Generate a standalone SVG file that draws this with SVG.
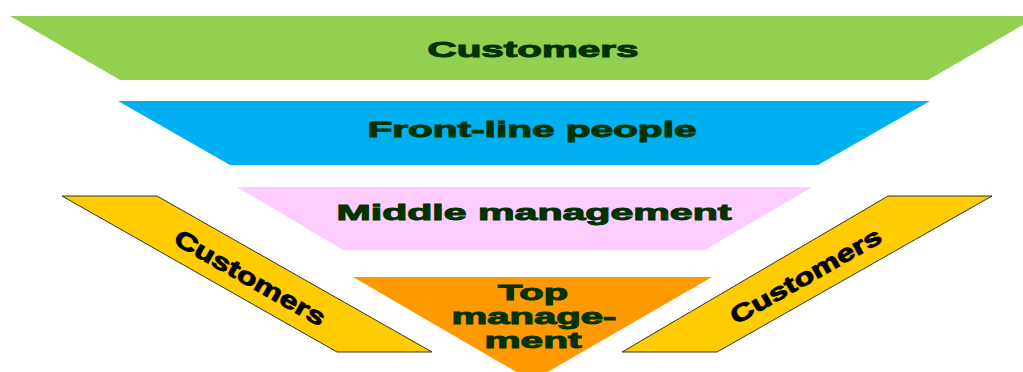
<svg xmlns="http://www.w3.org/2000/svg" width="1023" height="372" viewBox="0 0 1023 372">
<style>
.lbl{font-family:"Liberation Sans",Arial,sans-serif;font-weight:bold;font-size:22px;fill:#003300;stroke:#003300;stroke-width:1;text-anchor:middle}
.side{font-family:"Liberation Sans",Arial,sans-serif;font-weight:bold;font-size:24px;fill:#000;stroke:#000;stroke-width:0.9;text-anchor:middle}
.band{stroke:none}
.ybar{fill:#FFCC00;stroke:#333;stroke-width:1}
</style>
<rect width="1023" height="372" fill="#fff"/>
<g id="customers-top">
<polygon class="band" fill="#92D050" points="10,16 1038,16 928,80 120,80"/>
<text class="lbl" x="533" y="57" textLength="211" lengthAdjust="spacingAndGlyphs">Customers</text>
</g>
<g id="front-line">
<polygon class="band" fill="#00B0F0" points="118,101 930,101 818,165 230,165"/>
<text class="lbl" x="532" y="137" textLength="329" lengthAdjust="spacingAndGlyphs">Front-line people</text>
</g>
<g id="middle">
<polygon class="band" fill="#FFCCFF" points="237,187 812,187 705,250 343,250"/>
<text class="lbl" x="534" y="220" textLength="395" lengthAdjust="spacingAndGlyphs">Middle management</text>
</g>
<g id="top">
<polygon class="band" fill="#FF9900" points="353,277 712,277 532,381"/>
<text class="lbl" x="533" y="300" textLength="70" lengthAdjust="spacingAndGlyphs">Top</text>
<text class="lbl" x="534" y="324" textLength="165" lengthAdjust="spacingAndGlyphs">manage-</text>
<text class="lbl" x="533" y="348" textLength="97" lengthAdjust="spacingAndGlyphs">ment</text>
</g>
<g id="customers-left">
<polygon class="ybar" points="62,196 157,196 432,352 337,352"/>
<text class="side" transform="translate(250,278) rotate(29.6)" x="0" y="8" textLength="170" lengthAdjust="spacingAndGlyphs">Customers</text>
</g>
<g id="customers-right">
<polygon class="ybar" points="888,196 992,196 717,352 622,352"/>
<text class="side" transform="translate(806,276) rotate(-29.6)" x="0" y="8" textLength="170" lengthAdjust="spacingAndGlyphs">Customers</text>
</g>
<g id="connectors"/>
</svg>
